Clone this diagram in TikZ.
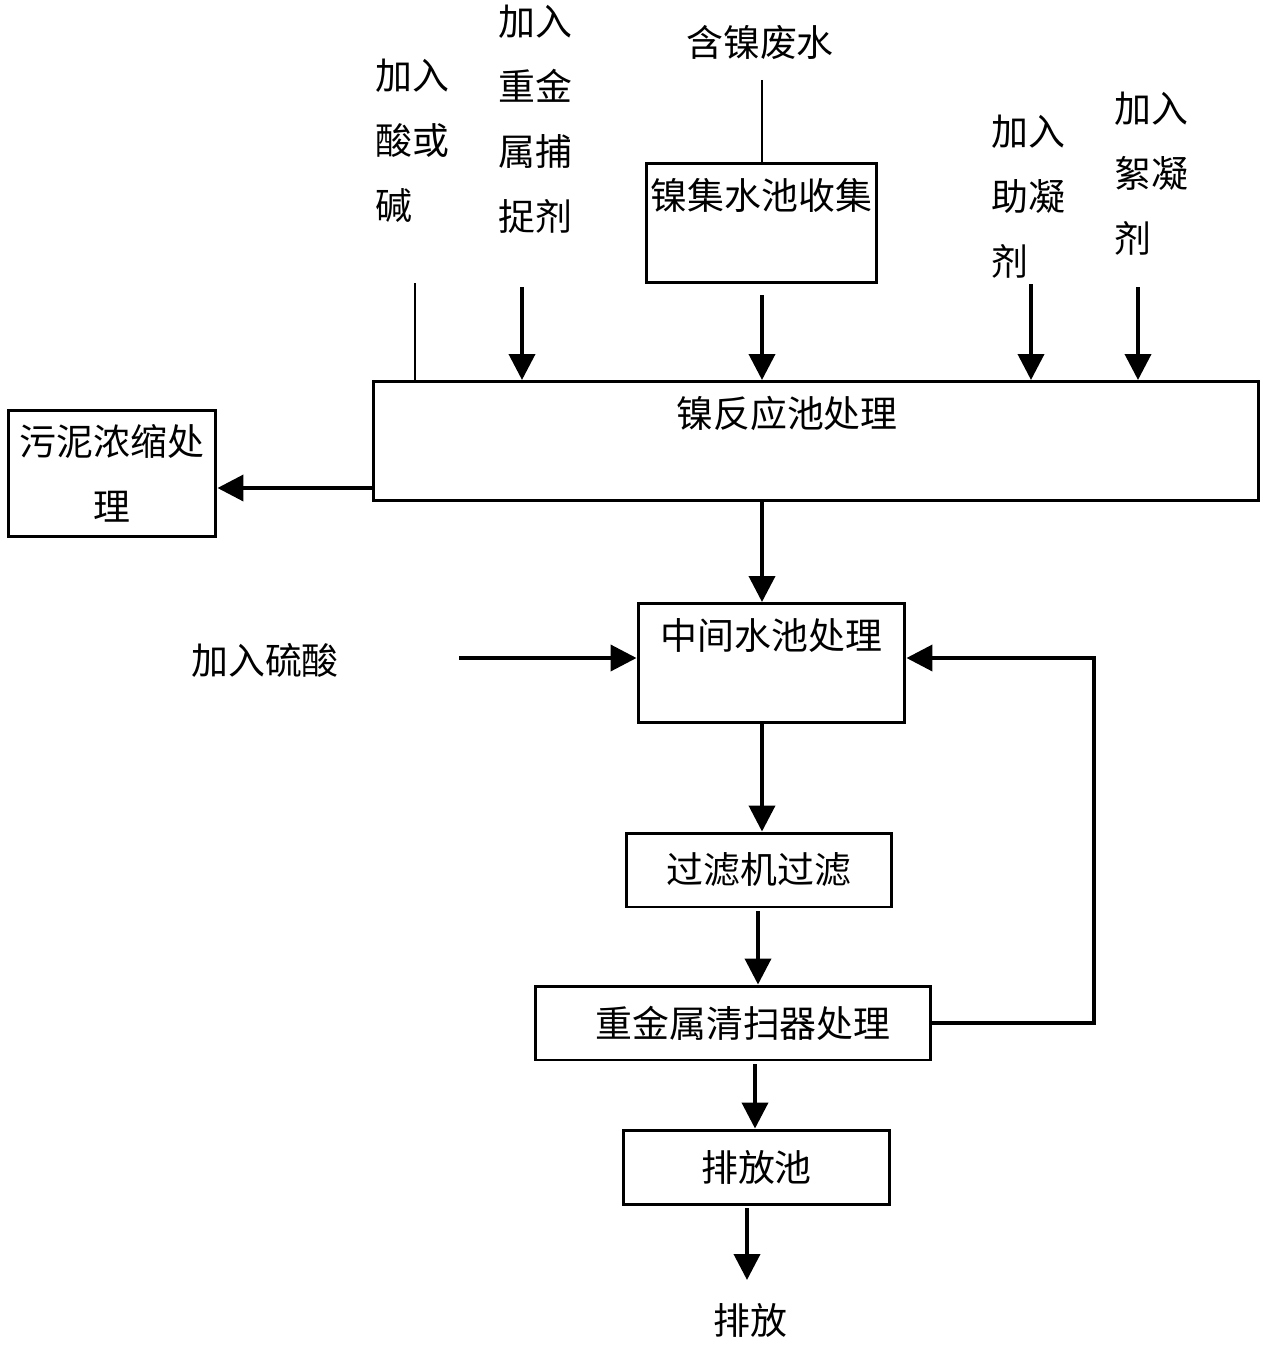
\documentclass[tikz,border=0pt]{standalone}
\usepackage{fontspec}
\newfontfamily\cjk{Noto Sans CJK SC}
\usepackage{tikz}
\usetikzlibrary{arrows.meta,positioning,calc}
\tikzstyle{box}=[draw,line width=1.7pt,inner sep=0pt,font=\cjk\fontsize{21}{21}\selectfont]
\tikzstyle{topbox}=[box,anchor=north,text height=0.93cm,text depth=1.45cm]
\tikzstyle{flatbox}=[box,minimum height=1.48cm]
\tikzstyle{txt}=[inner sep=0pt,font=\cjk\fontsize{21}{37}\selectfont]
\tikzstyle{feed}=[line width=2.2pt,-{Triangle[length=0.52cm,width=0.52cm]}]
\tikzstyle{pipe}=[line width=1.3pt]

\begin{document}
\begin{tikzpicture}[x=0.02cm,y=-0.02cm]
\useasboundingbox (0,0) rectangle (1271,1345);
% tanks
\node[topbox,minimum width=4.62cm] (collect) at (761.5,162) {镍集水池收集};
\node[topbox,minimum width=17.72cm] (react) at (816,380) {镍反应池处理\hspace*{1.16cm}};
\node[box,minimum width=4.16cm,minimum height=2.54cm,align=center,font=\cjk\fontsize{21}{37}\selectfont] (sludge) at (112,473.5) {污泥浓缩处\\理};
\node[topbox,minimum width=5.34cm] (mid) at (771.5,602) {中间水池处理};
\node[flatbox,minimum width=5.32cm] (filter) at (759,870) {过滤机过滤};
\node[flatbox,minimum width=7.92cm] (sweep) at (733,1023) {\hspace*{0.4cm}重金属清扫器处理};
\node[flatbox,minimum width=5.34cm] (pool) at (756.5,1167) {排放池};
% dosing labels
\node[txt] (water) at (760,42) {含镍废水};
\node[txt,align=left,anchor=north west] (acid) at (375,59) {加入\\酸或\\碱};
\node[txt,align=left,anchor=north west] (heavy) at (498,5) {加入\\重金\\属捕\\捉剂};
\node[txt,align=left,anchor=north west] (aid) at (991,115) {加入\\助凝\\剂};
\node[txt,align=left,anchor=north west] (floc) at (1114,92) {加入\\絮凝\\剂};
\node[txt] (sulf) at (265,660) {加入硫酸};
\node[txt] (out) at (750,1320) {排放};
% flow
\coordinate (colA) at (762,0);
\coordinate (w0) at (762,80);
\draw[pipe] (w0) -- (w0 |- collect.north);
\coordinate (a0) at (415,283);
\draw[pipe] (a0) -- (a0 |- react.north);
\foreach \x/\y in {522/287,1031/284,1138/287}{
  \coordinate (in\x) at (\x,\y);
  \draw[feed] (in\x) -- (in\x |- react.north);
}
\coordinate (c0) at (762,295);
\draw[feed] (c0) -- (c0 |- react.north);
\draw[feed] (colA |- react.south) -- (colA |- mid.north);
\coordinate (r1) at (373,488);
\draw[feed] (r1) -- (r1 -| sludge.east);
\coordinate (s1) at (459,658);
\draw[feed] (s1) -- (s1 -| mid.west);
\draw[feed] (colA |- mid.south) -- (colA |- filter.north);
\coordinate (f0) at (758,911);
\draw[feed] (f0) -- (f0 |- sweep.north);
\coordinate (k0) at (1094,658);
\draw[feed] (sweep.east) -| (k0) -- (k0 -| mid.east);
\coordinate (t0) at (755,1064);
\draw[feed] (t0) -- (t0 |- pool.north);
\coordinate (p0) at (747,1208);
\coordinate (p1) at (747,1280);
\draw[feed] (p0) -- (p1);
\end{tikzpicture}
\end{document}
